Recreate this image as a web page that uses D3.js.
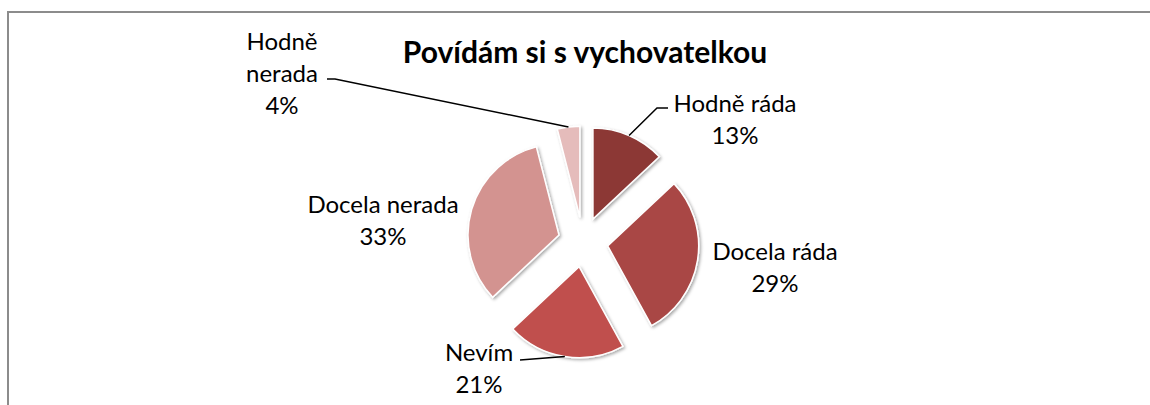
<!DOCTYPE html>
<html>
<head>
<meta charset="utf-8">
<script src="https://cdn.jsdelivr.net/npm/d3@7"></script>
<style>
  html, body { margin: 0; padding: 0; background: #fff; }
  svg { display: block; }
  text { font-family: Lato, "Noto Sans", sans-serif; fill: #000; }
</style>
</head>
<body>
<svg id="chart" width="1150" height="405"></svg>
<script>
// ---- data ----
const title = "Povídám si s vychovatelkou";
const categories = ["Hodně ráda", "Docela ráda", "Nevím", "Docela nerada", "Hodně nerada"];
const values = [13, 29, 21, 33, 4];
const colors = ["#8c3836", "#a94644", "#c0504d", "#d39390", "#e5bcbb"];
// label layout (lines, anchor position) – not data
const labelLines = [["Hodně ráda"], ["Docela ráda"], ["Nevím"], ["Docela nerada"], ["Hodně", "nerada"]];
const labelPos = [[735, 112], [775, 260], [479, 361], [383, 213], [282, 50]];
const leaders = [[[657, 108], [668, 108]], null, [[520, 360]], null, [[335, 79], [327, 79]]];

const svg = d3.select("#chart");
const cx = 583, cy = 242, R = 91, explode = 25;

// frame
svg.append("path").attr("d", "M8,405 V12 H1150").attr("fill", "none")
  .attr("stroke", "#8c8c8c").attr("stroke-width", 2);

const defs = svg.append("defs");
const f = defs.append("filter").attr("id", "sh").attr("x", "-20%").attr("y", "-20%").attr("width", "140%").attr("height", "140%");
f.append("feDropShadow").attr("dx", 1.5).attr("dy", 1.5).attr("stdDeviation", 1.6)
  .attr("flood-color", "#000").attr("flood-opacity", 0.35);

svg.append("text").attr("x", 585).attr("y", 63).attr("text-anchor", "middle")
  .attr("font-size", 30).attr("font-weight", "bold").text(title);

const pie = d3.pie().sort(null).value(d => d)(values);
const arc = d3.arc().innerRadius(0).outerRadius(R);
const g = svg.append("g").attr("transform", `translate(${cx},${cy})`);

function offset(d, r) {
  const a = (d.startAngle + d.endAngle) / 2;
  return [Math.sin(a) * r, -Math.cos(a) * r];
}

g.selectAll("path.slice").data(pie).join("path")
  .attr("class", "slice")
  .attr("transform", d => { const o = offset(d, explode); return `translate(${o[0]},${o[1]})`; })
  .attr("d", arc)
  .attr("fill", (d, i) => colors[i])
  .attr("stroke", "#fff").attr("stroke-width", 1.5)
  .attr("filter", "url(#sh)");

// leader lines
pie.forEach((d, i) => {
  if (!leaders[i]) return;
  const o1 = offset(d, explode);
  const o2 = offset(d, R);
  const start = [cx + o1[0] + o2[0], cy + o1[1] + o2[1]];
  const pts = [start].concat(leaders[i]);
  svg.append("path").attr("d", d3.line()(pts)).attr("fill", "none")
    .attr("stroke", "#000").attr("stroke-width", 1.5);
});

// labels
const lineH = 32;
pie.forEach((d, i) => {
  const t = svg.append("text").attr("text-anchor", "middle").attr("font-size", 24);
  const lines = labelLines[i].concat([d3.format(".0%")(values[i] / d3.sum(values))]);
  lines.forEach((s, k) => {
    t.append("tspan").attr("x", labelPos[i][0]).attr("y", labelPos[i][1] + k * lineH).text(s);
  });
});
</script>
</body>
</html>
